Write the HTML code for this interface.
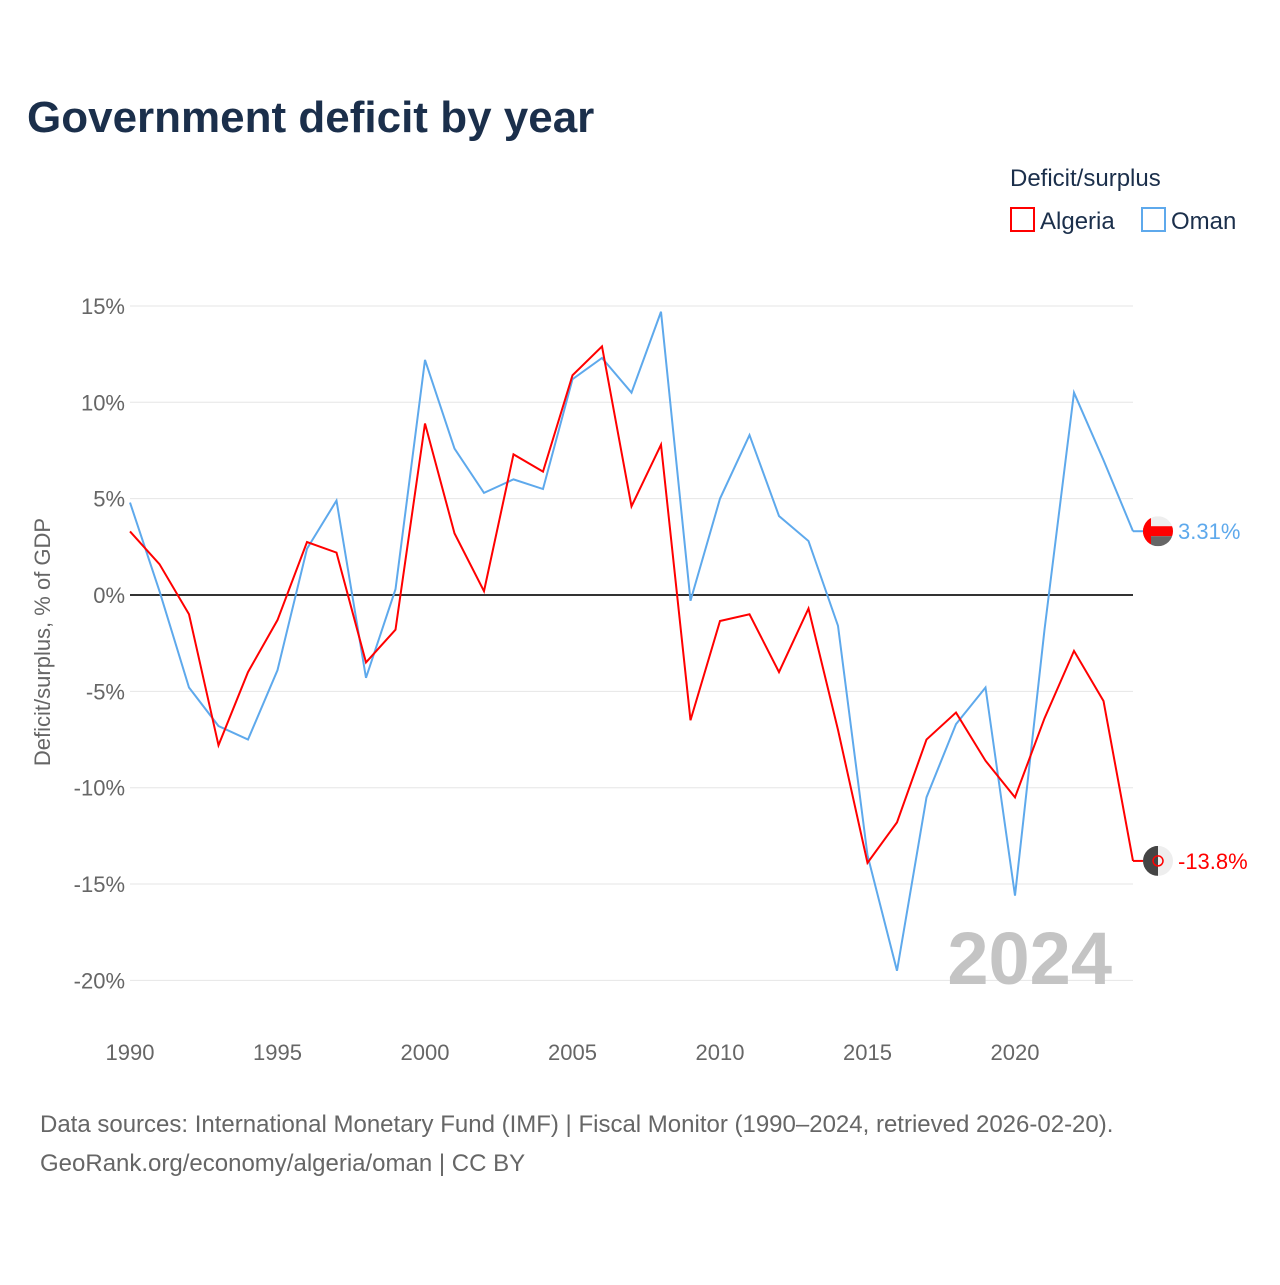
<!DOCTYPE html>
<html><head><meta charset="utf-8"><style>
body{margin:0;background:#fff;width:1280px;height:1280px;overflow:hidden;font-family:"Liberation Sans",sans-serif}
</style></head><body>
<svg id="chart" width="1280" height="1280" xmlns="http://www.w3.org/2000/svg" font-family="Liberation Sans, sans-serif">
<defs></defs>
<text x="27" y="132" font-size="44" font-weight="bold" fill="#1b2f4b">Government deficit by year</text>
<g>
<text x="1010" y="186" font-size="24" fill="#1b2f4b">Deficit/surplus</text>
<rect x="1011" y="208" width="23" height="23" fill="#fff" stroke="#ff0000" stroke-width="2"/>
<text x="1040" y="229" font-size="24" fill="#1b2f4b">Algeria</text>
<rect x="1142" y="208" width="23" height="23" fill="#fff" stroke="#5ea9ec" stroke-width="2"/>
<text x="1171" y="229" font-size="24" fill="#1b2f4b">Oman</text>
</g>
<text transform="translate(50,642) rotate(-90)" text-anchor="middle" font-size="22" fill="#666">Deficit/surplus, % of GDP</text>
<g id="grid"></g>
<g id="lines"></g>
<text x="1112" y="984" text-anchor="end" font-size="74" font-weight="bold" fill="#c4c4c4">2024</text>
<text x="40" y="1132" font-size="24" fill="#666">Data sources: International Monetary Fund (IMF) | Fiscal Monitor (1990–2024, retrieved 2026-02-20).</text>
<text x="40" y="1171" font-size="24" fill="#666">GeoRank.org/economy/algeria/oman | CC BY</text>
</svg>
<script>
const years=[];for(let y=1990;y<=2024;y++)years.push(y);
const algeria=[3.3,1.6,-1.0,-7.8,-4.0,-1.3,2.75,2.2,-3.5,-1.8,8.9,3.2,0.2,7.3,6.4,11.4,12.9,4.6,7.8,-6.5,-1.35,-1.0,-4.0,-0.7,-7.0,-13.9,-11.8,-7.5,-6.1,-8.6,-10.5,-6.4,-2.9,-5.5,-13.8];
const oman=[4.8,0.2,-4.8,-6.8,-7.5,-3.9,2.4,4.9,-4.3,0.3,12.2,7.6,5.3,6.0,5.5,11.2,12.3,10.5,14.7,-0.3,5.0,8.3,4.1,2.8,-1.6,-13.5,-19.5,-10.5,-6.7,-4.8,-15.6,-1.8,10.5,7.0,3.31];
const yTicks=[15,10,5,0,-5,-10,-15,-20];
const xTicks=[1990,1995,2000,2005,2010,2015,2020];
const NS="http://www.w3.org/2000/svg";
const X=v=>130+(v-1990)*(1133-130)/34;
const Y=v=>595-v*19.27;
function mk(tag,attrs,parent){const e=document.createElementNS(NS,tag);for(const k in attrs)e.setAttribute(k,attrs[k]);parent.appendChild(e);return e;}
const grid=document.getElementById('grid'),lines=document.getElementById('lines');
const defs=document.querySelector('defs');
yTicks.forEach(t=>{
  const l=mk('line',{x1:130,x2:1133,y1:Y(t),y2:Y(t),stroke:t===0?'#333':'#e6e6e6','stroke-width':t===0?2:1},grid);
  
  
  const tx=mk('text',{x:125,y:Y(t)+8,'text-anchor':'end','font-size':22,fill:'#666'},grid);
  tx.textContent=t+'%';
  
  
});
xTicks.forEach(t=>{
  const tx=mk('text',{x:X(t),y:1060,'text-anchor':'middle','font-size':22,fill:'#666'},grid);
  tx.textContent=t;
  
  
});
function series(vals,color,name){
  const p=mk('polyline',{points:vals.map((v,i)=>X(years[i])+','+Y(v)).join(' '),fill:'none',stroke:color,'stroke-width':2},lines);
  
  
  const last=vals[vals.length-1],ly=Y(last);
  mk('line',{x1:1133,x2:1145,y1:ly,y2:ly,stroke:color,'stroke-width':2},lines);
  return ly;
}
const oy=series(oman,'#5ea9ec','oman');
const ay=series(algeria,'#ff0000','algeria');
function clip(id,cy){const c=mk('clipPath',{id:id},defs);mk('circle',{cx:1158,cy:cy,r:15},c);}
clip('clipO',oy);clip('clipA',ay);
// Oman flag marker
let g=mk('g',{'clip-path':'url(#clipO)'},lines);


mk('rect',{x:1143,y:oy-15,width:30,height:30,fill:'#eee'},g);
mk('rect',{x:1143,y:oy-5,width:30,height:10,fill:'#ff0000'},g);
mk('rect',{x:1143,y:oy-15,width:8,height:30,fill:'#ff0000'},g);
mk('rect',{x:1151,y:oy+5,width:22,height:10,fill:'#666'},g);
let t=mk('text',{x:1178,y:oy+8,'font-size':22,fill:'#5ea9ec'},lines);t.textContent='3.31%';


// Algeria flag marker
g=mk('g',{'clip-path':'url(#clipA)'},lines);


mk('rect',{x:1143,y:ay-15,width:30,height:30,fill:'#eee'},g);
mk('rect',{x:1143,y:ay-15,width:15,height:30,fill:'#444'},g);
mk('circle',{cx:1158,cy:ay,r:5,fill:'none',stroke:'#ff0000','stroke-width':1.5},g);
t=mk('text',{x:1178,y:ay+8,'font-size':22,fill:'#ff0000'},lines);t.textContent='-13.8%';


</script>
</body></html>
